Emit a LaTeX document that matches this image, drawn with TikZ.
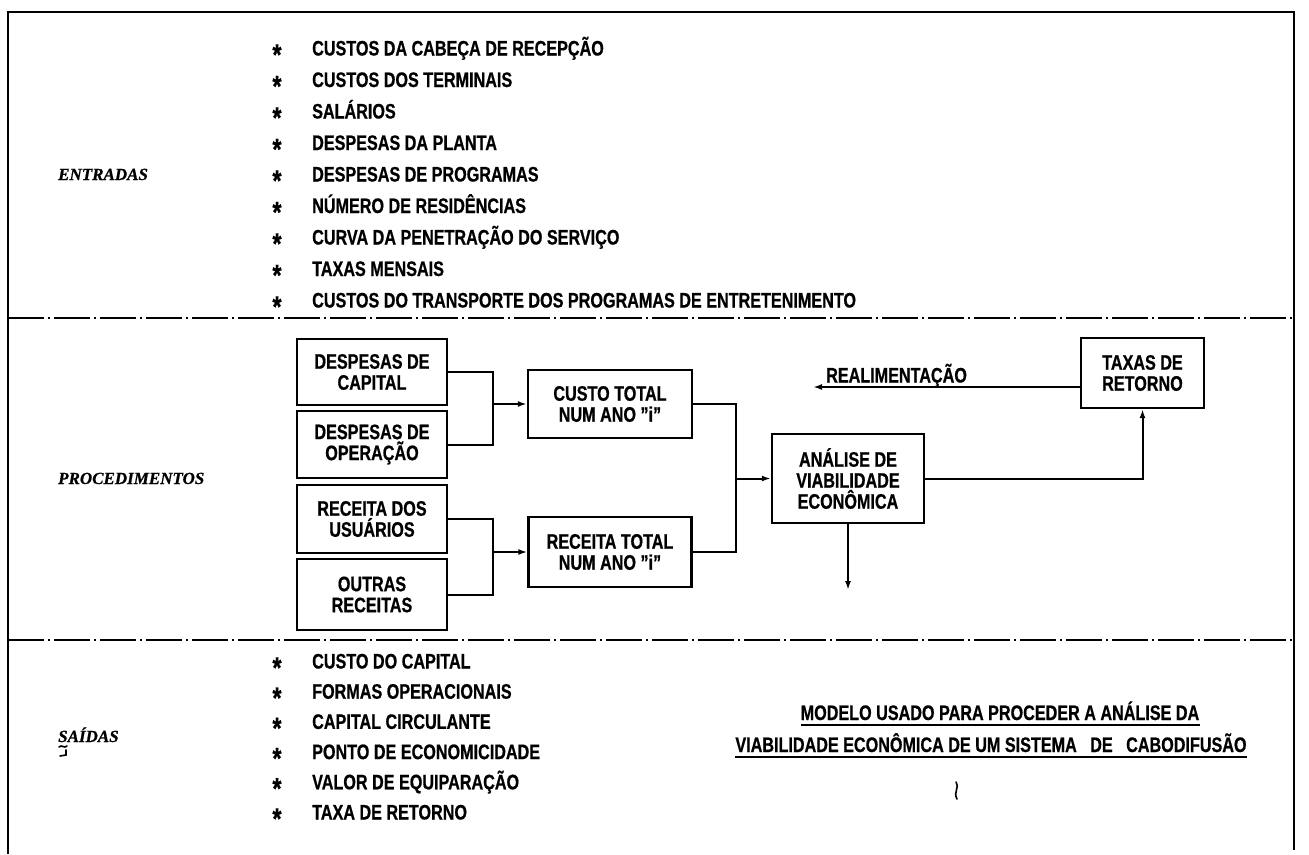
\documentclass[tikz,border=0pt]{standalone}
\usepackage{fontspec}
\setmainfont{Liberation Sans}[FakeStretch=0.77, BoldFeatures={FakeBold=0.7}]
\newfontfamily\lblfont{Liberation Serif}[BoldItalicFeatures={FakeBold=0.8}]
\usetikzlibrary{arrows.meta,calc}
\tikzset{
  frameline/.style={line width=2.8pt},
  sepline/.style={line width=1.8pt, dash pattern=on 36pt off 4pt on 2pt off 4pt},
  txt/.style={inner sep=0pt, font=\bfseries\fontsize{21}{21}\selectfont},
  item/.style={txt, anchor=west, text height=15pt, text depth=0pt},
  bullet/.style={inner sep=0pt, font=\bfseries\fontsize{30}{30}\selectfont, anchor=base},
  box/.style={txt, draw, line width=2.4pt, align=center},
  sect/.style={inner sep=0pt, anchor=west, font=\lblfont\bfseries\itshape\fontsize{17}{17}\selectfont, text height=12pt, text depth=0pt},
  conn/.style={line width=2pt},
  arr/.style={conn, -{Latex[length=9pt,width=6pt]}},
  scribble/.style={line width=1.6pt, line cap=round},
}
\begin{document}
\begin{tikzpicture}[x=1pt,y=-1pt]
\useasboundingbox (0,0) rectangle (1309,854);
% frame
\coordinate (fbl) at (8,854);
\coordinate (ftl) at (8,12);
\coordinate (ftr) at (1294,12);
\coordinate (fbr) at (1294,850);
\draw[frameline] (fbl) -- (ftl) -- (ftr) -- (fbr);
% separators
\coordinate (s1l) at (8,318); \coordinate (s1r) at (1294,318);
\coordinate (s2l) at (8,640); \coordinate (s2r) at (1294,640);
\draw[sepline] (s1l) -- (s1r);
\draw[sepline] (s2l) -- (s2r);
% section labels
\node[sect] (lentradas) at (58,174) {ENTRADAS};
\node[sect] (lproc) at (58,478) {PROCEDIMENTOS};
\node[sect] (lsaidas) at (58,736) {SAÍDAS};
\draw[scribble] (59,747) .. controls (62,744) and (64,749) .. (67,746);
\draw[scribble] (60,756) -- (66,755) -- (66,750);
% inputs
\foreach \t [count=\i, evaluate=\i as \yy using 48+31.5*(\i-1)] in
 {CUSTOS DA CABEÇA DE RECEPÇÃO, CUSTOS DOS TERMINAIS, SALÁRIOS, DESPESAS DA PLANTA,
  DESPESAS DE PROGRAMAS, NÚMERO DE RESIDÊNCIAS, CURVA DA PENETRAÇÃO DO SERVIÇO,
  TAXAS MENSAIS, CUSTOS DO TRANSPORTE DOS PROGRAMAS DE ENTRETENIMENTO}
{
  \node[bullet] (es\i) at (277,\yy+17) {*};
  \node[item] (e\i) at (312,\yy) {\t};
}
% outputs
\foreach \t [count=\i, evaluate=\i as \yy using 661+30.2*(\i-1)] in
 {CUSTO DO CAPITAL, FORMAS OPERACIONAIS, CAPITAL CIRCULANTE, PONTO DE ECONOMICIDADE,
  VALOR DE EQUIPARAÇÃO, TAXA DE RETORNO}
{
  \node[bullet] (ss\i) at (277,\yy+17) {*};
  \node[item] (s\i) at (312,\yy) {\t};
}
% procedure boxes
\node[box, minimum width=150pt, minimum height=66pt] (dc) at (372,372) {DESPESAS DE\\CAPITAL};
\node[box, minimum width=150pt, minimum height=67pt] (do) at (372,444.5) {DESPESAS DE\\OPERAÇÃO};
\node[box, minimum width=150pt, minimum height=68pt] (ru) at (372,519) {RECEITA DOS\\USUÁRIOS};
\node[box, minimum width=150pt, minimum height=71pt] (or) at (372,594.5) {OUTRAS\\RECEITAS};
\node[box, minimum width=164pt, minimum height=68pt] (ct) at (610,404) {CUSTO TOTAL\\NUM ANO "i"};
\node[box, minimum width=163pt, minimum height=70pt] (rt) at (610,552) {RECEITA TOTAL\\NUM ANO "i"};
\node[box, minimum width=152pt, minimum height=89pt] (av) at (848,478.5) {ANÁLISE DE\\VIABILIDADE\\ECONÔMICA};
\node[box, minimum width=123pt, minimum height=70pt] (tr) at (1142.5,373) {TAXAS DE\\RETORNO};
% connectors
\coordinate (j1) at (493,0);
\coordinate (j3) at (736,0);
\draw[conn] (dc.east) -- (dc.east -| j1) |- (do.east);
\draw[arr] (ct.west -| j1) -- (ct.west);
\draw[conn] (ru.east) -- (ru.east -| j1) |- (or.east);
\draw[arr] (rt.west -| j1) -- (rt.west);
\draw[conn] (ct.east) -- (ct.east -| j3) |- (rt.east);
\draw[arr] (av.west -| j3) -- (av.west);
\draw[arr] (av.east) -| (tr.south);
\coordinate (fb) at (813,387);
\draw[arr] (tr.west |- fb) -- (fb);
\node[item] (lfb) at (826,375) {REALIMENTAÇÃO};
\coordinate (out) at (848,590);
\draw[arr] (av.south) -- (out);
% title
\node[txt, anchor=base] (t1) at (1000,720) {MODELO USADO PARA PROCEDER A ANÁLISE DA};
\node[txt, anchor=base] (t2) at (991,752) {VIABILIDADE ECONÔMICA DE UM SISTEMA\ \ \ DE\ \ \ CABODIFUSÃO};
\draw[conn] ([yshift=-5pt]t1.base west) -- ([yshift=-5pt]t1.base east);
\draw[conn] ([yshift=-5pt]t2.base west) -- ([yshift=-5pt]t2.base east);
\draw[scribble] (956,782) .. controls (960,787) and (953,792) .. (957,799);
\end{tikzpicture}
\end{document}
